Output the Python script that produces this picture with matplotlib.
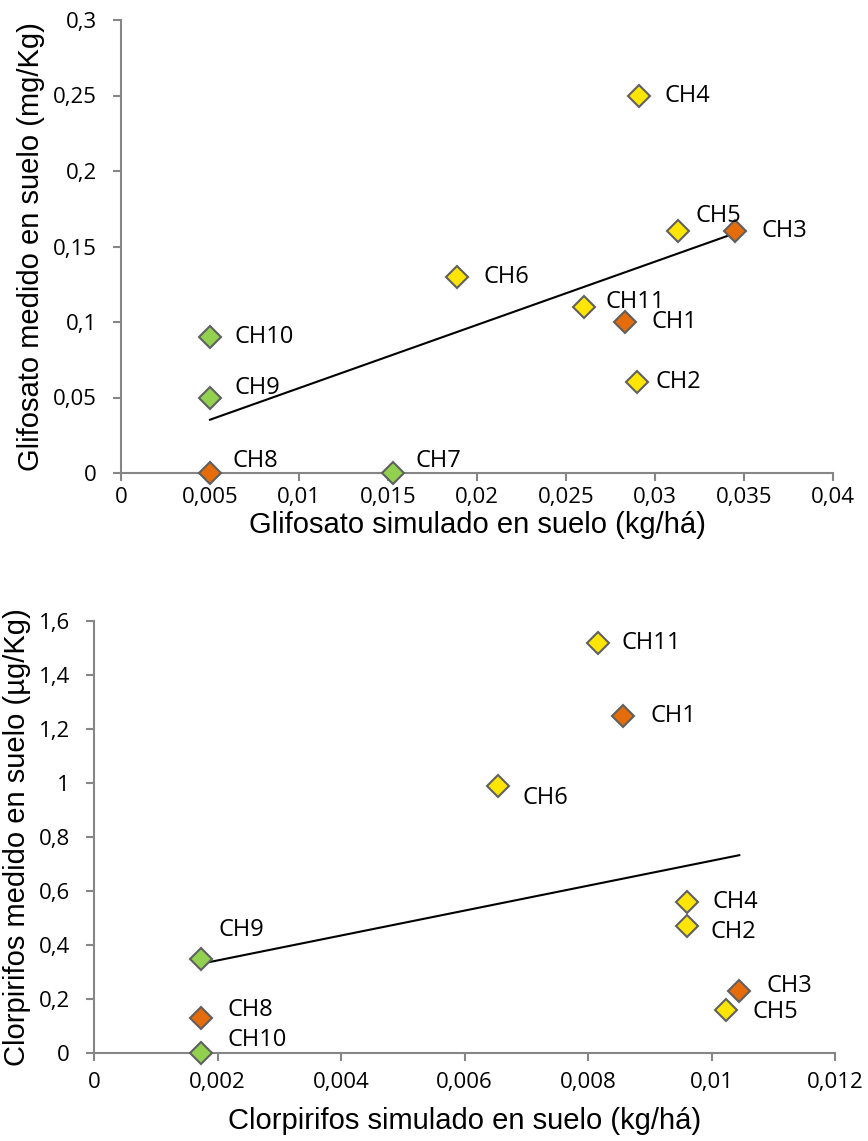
import numpy as np
import matplotlib
matplotlib.use('Agg')
import matplotlib.pyplot as plt

# Glifosato (panel superior)
gli_nombres = ['CH1', 'CH2', 'CH3', 'CH4', 'CH5', 'CH6', 'CH7', 'CH8', 'CH9', 'CH10', 'CH11']
gli_simulado = [0.0283, 0.0290, 0.0345, 0.0291, 0.0313, 0.0189, 0.0153, 0.0050, 0.0050, 0.0050, 0.0260]
gli_medido = [0.10, 0.06, 0.16, 0.25, 0.16, 0.13, 0.0, 0.0, 0.05, 0.09, 0.11]
gli_grupo = ['o', 'y', 'o', 'y', 'y', 'y', 'g', 'o', 'g', 'g', 'y']

# Clorpirifos (panel inferior)
clo_nombres = ['CH1', 'CH2', 'CH3', 'CH4', 'CH5', 'CH6', 'CH8', 'CH9', 'CH10', 'CH11']
clo_simulado = [0.00857, 0.0096, 0.01045, 0.0096, 0.01023, 0.00654, 0.00174, 0.00174, 0.00174, 0.00816]
clo_medido = [1.25, 0.47, 0.23, 0.56, 0.16, 0.99, 0.13, 0.35, 0.0, 1.52]
clo_grupo = ['o', 'y', 'o', 'y', 'y', 'y', 'o', 'g', 'g', 'y']

colores = {'o': '#E46C0A', 'y': '#FFE500', 'g': '#92D050'}
gris = '#868686'

# desplazamientos de etiquetas (pixeles)
gli_off = {'CH1': (27, 0), 'CH2': (18, 0), 'CH3': (26, 0), 'CH4': (26, 0), 'CH5': (17, 15),
           'CH6': (26, 0), 'CH7': (22, 12), 'CH8': (23, 12), 'CH9': (25, 10), 'CH10': (25, 0),
           'CH11': (22, 5)}
clo_off = {'CH1': (27, 0), 'CH2': (24, -6), 'CH3': (27, 5), 'CH4': (26, 0), 'CH5': (27, -2),
           'CH6': (25, -12), 'CH8': (26, 8), 'CH9': (17, 29), 'CH10': (26, 13), 'CH11': (24, 0)}

fig = plt.figure(figsize=(8.68, 11.41), dpi=100)
ax1 = fig.add_axes([121 / 868, 1 - 473 / 1141, 712 / 868, 453 / 1141])
ax2 = fig.add_axes([94 / 868, 1 - 1053 / 1141, 741 / 868, 432 / 1141])


def dibujar(ax, xs, ys, nombres, grupos, offs, xlim, ylim, xticks, yticks, fmt,
            xlabel, ylabel, xpad, xlpad):
    xs = np.array(xs)
    ys = np.array(ys)
    # linea de tendencia lineal
    m, b = np.polyfit(xs, ys, 1)
    xx = np.array([xs.min(), xs.max()])
    ax.plot(xx, m * xx + b, color='black', lw=1.5, zorder=2)
    for x, y, n, g in zip(xs, ys, nombres, grupos):
        ax.plot(x, y, marker='D', ms=11, mfc=colores[g], mec='#606060', mew=1.5,
                linestyle='none', zorder=3, clip_on=False)
        ax.annotate(n, (x, y), xytext=offs[n], textcoords='offset pixels',
                    ha='left', va='center', fontsize=17, family='Open Sans')
    ax.set_xlim(*xlim)
    ax.set_ylim(*ylim)
    ax.set_xticks(xticks)
    ax.set_yticks(yticks)
    ax.set_xticklabels([fmt(v) for v in xticks], family='Open Sans', fontsize=16)
    ax.set_yticklabels([fmt(v) for v in yticks], family='Open Sans', fontsize=16)
    for s in ['top', 'right']:
        ax.spines[s].set_visible(False)
    for s in ['left', 'bottom']:
        ax.spines[s].set_color(gris)
        ax.spines[s].set_linewidth(1.5)
    ax.tick_params(direction='out', length=6, width=1.5, color=gris)
    ax.tick_params(axis='x', pad=xpad)
    ax.tick_params(axis='y', pad=11.5)
    ax.set_xlabel(xlabel, family='Liberation Sans', fontsize=21, labelpad=xlpad)
    ax.set_ylabel(ylabel, family='Liberation Sans', fontsize=21, labelpad=5.5)


def coma(v):
    s = ('%.3f' % v).rstrip('0').rstrip('.')
    return s.replace('.', ',')


dibujar(ax1, gli_simulado, gli_medido, gli_nombres, gli_grupo, gli_off,
        (0, 0.04), (0, 0.3), np.arange(0, 0.0401, 0.005), np.arange(0, 0.301, 0.05),
        coma, 'Glifosato simulado en suelo (kg/há)', 'Glifosato medido en suelo (mg/Kg)',
        4, 2)

dibujar(ax2, clo_simulado, clo_medido, clo_nombres, clo_grupo, clo_off,
        (0, 0.012), (0, 1.6), np.arange(0, 0.01201, 0.002), np.arange(0, 1.601, 0.2),
        coma, 'Clorpirifos simulado en suelo (kg/há)', 'Clorpirifos medido en suelo (µg/Kg)',
        8, 10)

plt.savefig('out.png', dpi=100)
